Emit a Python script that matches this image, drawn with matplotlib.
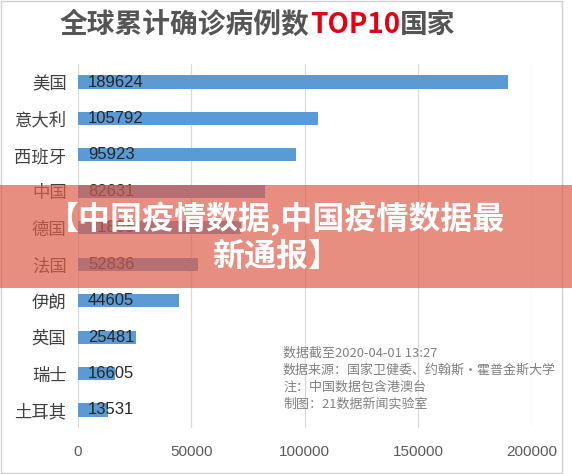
import matplotlib
matplotlib.use("Agg")
import matplotlib.pyplot as plt
from matplotlib.patches import Rectangle

plt.rcParams['font.family'] = ['Noto Sans CJK SC', 'DejaVu Sans']

countries = ["美国", "意大利", "西班牙", "中国", "德国", "法国", "伊朗", "英国", "瑞士", "土耳其"]
cases = [189624, 105792, 95923, 82631, 71808, 52836, 44605, 25481, 16605, 13531]
xticks = [0, 50000, 100000, 150000, 200000]

title_parts = [("全球累计确诊病例数", "#555555"), ("TOP10", "#e60012"), ("国家", "#555555")]
notes = ["数据截至2020-04-01 13:27",
         "数据来源：国家卫健委、约翰斯・霍普金斯大学",
         "注：中国数据包含港澳台",
         "制图：21数据新闻实验室"]
banner = "【中国疫情数据,中国疫情数据最\n新通报】"

W, H = 572, 474
fig = plt.figure(figsize=(W / 100, H / 100), dpi=100)
ax = fig.add_axes([77.7 / W, 1 - 428.2 / H, (532 - 77.7) / W, (428.2 - 63.8) / H])

ypos = list(range(len(countries)))
ax.barh(ypos, cases, height=0.36, color="#5b9bd5", zorder=2)
for y, v in zip(ypos, cases):
    ax.annotate(str(v), (0, y), xytext=(7.5, 0), textcoords="offset points",
                va="center", ha="left", fontsize=12, color="#262626",
                family=["Liberation Sans", "DejaVu Sans"], zorder=3)

ax.set_xlim(0, 200000)
ax.set_ylim(len(countries) - 0.5, -0.5)
ax.set_yticks(ypos)
ax.set_yticklabels(countries, fontsize=12.5, color="#404040")
ax.set_xticks(xticks)
ax.set_xticklabels([str(t) for t in xticks], fontsize=11, color="#595959",
                   family=["Liberation Sans", "DejaVu Sans"])
ax.tick_params(axis="y", length=0, pad=8)
ax.tick_params(axis="x", length=0, pad=12)
ax.grid(axis="x", color="#d9d9d9", lw=0.9, zorder=0)
for s in ax.spines.values():
    s.set_visible(False)

# notes block
for i, line in enumerate(notes):
    fig.text(283 / W, 1 - (353 + 17 * i) / H, line, fontsize=9.35, color="#808080",
             va="center", ha="left")

# title, pieced together so TOP10 can be red
fig.canvas.draw()
r = fig.canvas.get_renderer()
x = 60 / W
for txt, col in title_parts:
    t = fig.text(x, 1 - 25 / H, txt, fontsize=20, fontweight="bold", color=col,
                 va="center", ha="left")
    bb = t.get_window_extent(renderer=r)
    x = bb.x1 / W

# outer frame
fig.patches.append(Rectangle((1 / W, 1 / H), 561 / W, (H - 2) / H, transform=fig.transFigure,
                             fill=False, ec="#d0d0d0", lw=1, zorder=5))

# pink banner over the middle
fig.patches.append(Rectangle((0, 1 - 288 / H), 1, 103 / H, transform=fig.transFigure,
                             fc=(222 / 255, 94 / 255, 74 / 255), alpha=0.7, ec="none", zorder=10))
fig.text(276 / W, 1 - 237 / H, banner, fontsize=23, fontweight="bold", color="white",
         ha="center", va="center", linespacing=1.2, zorder=11)

fig.savefig("out.png", dpi=100)
